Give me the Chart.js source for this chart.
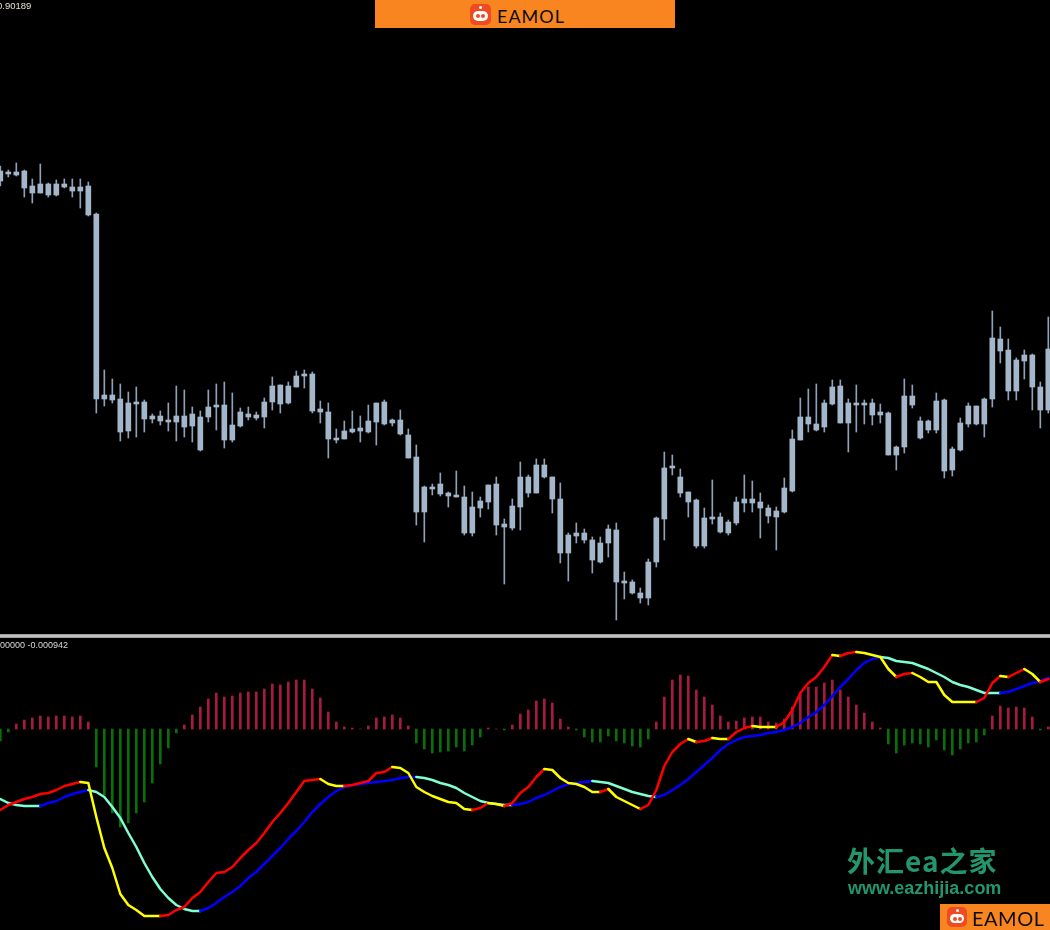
<!DOCTYPE html>
<html><head><meta charset="utf-8">
<script src="https://cdn.jsdelivr.net/npm/chart.js@4.4.1/dist/chart.umd.min.js"></script>
<style>
html,body{margin:0;padding:0;background:#000;width:1050px;height:930px;overflow:hidden;position:relative;}
canvas{position:absolute;left:0;display:block;}
#top{top:0;}
#bot{top:638px;}
#sep{position:absolute;left:0;top:634px;width:1050px;height:4px;background:linear-gradient(#8e8e8e,#d0d0d0 50%,#8e8e8e);}
.lbl{position:absolute;font-family:"Liberation Sans",Arial,sans-serif;white-space:nowrap;}
.logo{position:absolute;background:#f8851f;overflow:hidden;}
.ico{position:absolute;border-radius:5px;background:#ef4b22;}
.ico .face{position:absolute;background:#fff;border-radius:6px;}
.ico .face i{position:absolute;border-radius:50%;background:#ef4b22;}
.ico .ant{position:absolute;border-radius:50%;background:#fff;}
.logo span{position:absolute;font-family:Lato,Roboto,sans-serif;color:#0d0d0d;letter-spacing:1px;line-height:1;}
#wm1{position:absolute;left:847px;top:844px;font-family:"Noto Sans CJK SC",sans-serif;font-weight:700;font-size:28px;color:#23966e;line-height:1.2;white-space:nowrap;letter-spacing:1px;}
#wm2{position:absolute;left:848px;top:879px;font-family:"Liberation Sans",Arial,sans-serif;font-weight:700;font-size:18px;color:#23966e;white-space:nowrap;line-height:1.1;}
</style></head>
<body>
<canvas id="top" width="1050" height="633"></canvas>
<div id="sep"></div>
<canvas id="bot" width="1050" height="292"></canvas>
<div class="lbl" style="left:-3px;top:0px;font-size:9.5px;color:#e6e0d2;">0.90189</div>
<div class="lbl" style="left:0px;top:640px;font-size:9px;color:#d8d8d8;">00000 -0.000942</div>

<div class="logo" style="left:375px;top:0;width:300px;height:28px;">
  <div class="ico" style="left:95px;top:4px;width:21px;height:21px;">
    <div class="ant" style="left:9px;top:2px;width:3px;height:3px;"></div>
    <div class="face" style="left:3px;top:7px;width:15px;height:10px;"><i style="left:3px;top:3px;width:4px;height:4px;"></i><i style="left:8px;top:3px;width:4px;height:4px;"></i></div>
  </div>
  <span style="left:122px;top:7px;font-size:18px;">EAMOL</span>
</div>
<div id="wm1">外汇ea之家</div>
<div id="wm2">www.eazhijia.com</div>
<div class="logo" style="left:940px;top:904px;width:110px;height:26px;">
  <div class="ico" style="left:7px;top:3px;width:20px;height:20px;">
    <div class="ant" style="left:8.5px;top:2px;width:3px;height:3px;"></div>
    <div class="face" style="left:3px;top:7px;width:14px;height:9px;"><i style="left:3px;top:2.5px;width:4px;height:4px;"></i><i style="left:7.5px;top:2.5px;width:4px;height:4px;"></i></div>
  </div>
  <span style="left:32px;top:4px;font-size:20px;letter-spacing:0.5px;">EAMOL</span>
</div>

<script>
// ---- Price candles (one per bar) ----
const open = [0.90008,0.90015,0.90014,0.90018,0.90003,0.89996,0.90005,0.89994,0.90005,0.90002,
0.89998,0.90003,0.89975,0.89790,0.89794,0.89790,0.89758,0.89785,0.89787,0.89770,
0.89773,0.89768,0.89767,0.89773,0.89763,0.89772,0.89772,0.89782,0.89784,0.89749,
0.89763,0.89775,0.89771,0.89772,0.89787,0.89804,0.89786,0.89802,0.89813,0.89815,
0.89780,0.89777,0.89749,0.89750,0.89757,0.89761,0.89757,0.89767,0.89787,0.89766,
0.89769,0.89754,0.89732,0.89677,0.89702,0.89705,0.89696,0.89694,0.89692,0.89656,
0.89681,0.89687,0.89705,0.89662,0.89661,0.89682,0.89712,0.89696,0.89724,0.89712,
0.89690,0.89636,0.89653,0.89656,0.89649,0.89627,0.89646,0.89659,0.89606,0.89607,
0.89596,0.89591,0.89627,0.89670,0.89721,0.89712,0.89697,0.89689,0.89643,0.89672,
0.89672,0.89656,0.89666,0.89686,0.89690,0.89687,0.89681,0.89672,0.89677,0.89698,
0.89749,0.89772,0.89765,0.89762,0.89785,0.89803,0.89766,0.89784,0.89786,0.89786,
0.89777,0.89776,0.89734,0.89742,0.89793,0.89768,0.89759,0.89759,0.89789,0.89719,
0.89739,0.89765,0.89783,0.89765,0.89790,0.89850,0.89839,0.89798,0.89828,0.89834,
0.89802,0.89779];
const high = [0.90023,0.90019,0.90026,0.90019,0.90010,0.90025,0.90006,0.90009,0.90010,0.90010,
0.90010,0.90007,0.89976,0.89819,0.89810,0.89805,0.89797,0.89802,0.89789,0.89775,
0.89778,0.89786,0.89803,0.89799,0.89782,0.89778,0.89799,0.89805,0.89807,0.89796,
0.89781,0.89782,0.89777,0.89791,0.89812,0.89804,0.89807,0.89818,0.89819,0.89817,
0.89788,0.89786,0.89760,0.89768,0.89778,0.89773,0.89784,0.89786,0.89789,0.89770,
0.89779,0.89760,0.89744,0.89703,0.89705,0.89716,0.89697,0.89718,0.89703,0.89697,
0.89692,0.89704,0.89712,0.89670,0.89690,0.89727,0.89714,0.89730,0.89730,0.89712,
0.89706,0.89656,0.89666,0.89660,0.89652,0.89652,0.89664,0.89666,0.89617,0.89609,
0.89601,0.89630,0.89672,0.89737,0.89734,0.89720,0.89697,0.89690,0.89681,0.89709,
0.89676,0.89669,0.89692,0.89714,0.89708,0.89696,0.89684,0.89682,0.89711,0.89759,
0.89791,0.89800,0.89805,0.89789,0.89809,0.89809,0.89790,0.89804,0.89789,0.89790,
0.89785,0.89777,0.89743,0.89810,0.89804,0.89772,0.89769,0.89796,0.89790,0.89742,
0.89771,0.89786,0.89783,0.89791,0.89878,0.89862,0.89850,0.89831,0.89839,0.89835,
0.89807,0.89872];
const low = [0.90003,0.90012,0.90013,0.89992,0.89986,0.89996,0.89992,0.89993,0.90001,0.89992,
0.89981,0.89973,0.89776,0.89783,0.89786,0.89748,0.89751,0.89752,0.89757,0.89766,
0.89764,0.89758,0.89748,0.89752,0.89747,0.89738,0.89767,0.89759,0.89741,0.89747,
0.89762,0.89769,0.89769,0.89761,0.89779,0.89776,0.89785,0.89802,0.89801,0.89776,
0.89766,0.89731,0.89746,0.89750,0.89756,0.89747,0.89756,0.89744,0.89764,0.89763,
0.89754,0.89731,0.89664,0.89647,0.89694,0.89693,0.89682,0.89692,0.89654,0.89653,
0.89672,0.89680,0.89654,0.89605,0.89659,0.89659,0.89692,0.89696,0.89711,0.89676,
0.89626,0.89608,0.89646,0.89646,0.89616,0.89626,0.89632,0.89569,0.89590,0.89595,
0.89586,0.89584,0.89622,0.89649,0.89714,0.89692,0.89672,0.89641,0.89641,0.89665,
0.89656,0.89654,0.89664,0.89677,0.89677,0.89651,0.89666,0.89639,0.89676,0.89697,
0.89749,0.89757,0.89758,0.89757,0.89784,0.89766,0.89737,0.89757,0.89765,0.89764,
0.89766,0.89734,0.89719,0.89736,0.89781,0.89750,0.89756,0.89756,0.89711,0.89713,
0.89738,0.89762,0.89764,0.89752,0.89782,0.89826,0.89789,0.89789,0.89810,0.89779,
0.89761,0.89776];
const close = [0.90018,0.90016,0.90017,0.90001,0.89996,0.90005,0.89994,0.90005,0.90002,0.89998,
0.90002,0.89974,0.89790,0.89794,0.89789,0.89757,0.89786,0.89787,0.89770,0.89773,
0.89768,0.89767,0.89773,0.89762,0.89775,0.89739,0.89782,0.89784,0.89749,0.89764,
0.89777,0.89772,0.89774,0.89787,0.89803,0.89785,0.89803,0.89813,0.89815,0.89778,
0.89777,0.89750,0.89751,0.89758,0.89760,0.89758,0.89768,0.89786,0.89765,0.89769,
0.89755,0.89731,0.89677,0.89702,0.89700,0.89695,0.89693,0.89692,0.89656,0.89682,
0.89688,0.89704,0.89664,0.89665,0.89683,0.89712,0.89696,0.89724,0.89712,0.89690,
0.89636,0.89654,0.89656,0.89649,0.89629,0.89646,0.89660,0.89607,0.89608,0.89596,
0.89591,0.89627,0.89671,0.89721,0.89722,0.89696,0.89687,0.89643,0.89671,0.89670,
0.89657,0.89667,0.89687,0.89690,0.89686,0.89681,0.89673,0.89678,0.89701,0.89750,
0.89772,0.89765,0.89759,0.89786,0.89802,0.89766,0.89786,0.89786,0.89784,0.89774,
0.89774,0.89734,0.89742,0.89793,0.89784,0.89751,0.89768,0.89788,0.89718,0.89740,
0.89766,0.89783,0.89765,0.89790,0.89851,0.89838,0.89798,0.89829,0.89834,0.89802,
0.89779,0.89840];

// ---- Indicator sub-window ----
const histogram = [-0.00012,-0.00003,0.00005,0.00009,0.00011,0.00013,0.00012,0.00013,0.00013,0.00012,
0.00013,0.00007,-0.00038,-0.00066,-0.00084,-0.00098,-0.00094,-0.00084,-0.00073,-0.00054,
-0.00035,-0.00019,-0.00004,0.00004,0.00014,0.00022,0.00030,0.00036,0.00032,0.00033,
0.00036,0.00037,0.00037,0.00040,0.00045,0.00044,0.00047,0.00049,0.00049,0.00040,
0.00031,0.00017,0.00007,0.00002,0.00001,0,0.00003,0.00011,0.00012,0.00014,
0.00011,0.00003,-0.00014,-0.00020,-0.00024,-0.00023,-0.00022,-0.00018,-0.00022,-0.00016,
-0.00008,0.00001,0,-0.00001,0.00004,0.00015,0.00019,0.00028,0.00030,0.00026,
0.00010,0.00002,-0.00001,-0.00008,-0.00013,-0.00013,-0.00007,-0.00012,-0.00014,-0.00017,
-0.00018,-0.00010,0.00007,0.00032,0.00049,0.00054,0.00053,0.00039,0.00032,0.00024,
0.00013,0.00007,0.00008,0.00011,0.00012,0.00012,0.00007,0.00006,0.00010,0.00022,
0.00035,0.00042,0.00042,0.00046,0.00049,0.00039,0.00032,0.00024,0.00016,0.00007,
0.00001,-0.00015,-0.00024,-0.00016,-0.00014,-0.00015,-0.00018,-0.00011,-0.00021,-0.00026,
-0.00020,-0.00014,-0.00013,-0.00006,0.00013,0.00023,0.00021,0.00022,0.00021,0.00012,
-0.00001,0.00002];
const fastLine = [-0.00081,-0.00076,-0.00073,-0.00070,-0.00068,-0.00065,-0.00064,-0.00061,-0.00057,-0.00055,
-0.00053,-0.00054,-0.00088,-0.00119,-0.00139,-0.00165,-0.00176,-0.00181,-0.00187,-0.00187,
-0.00187,-0.00186,-0.00181,-0.00178,-0.00169,-0.00163,-0.00153,-0.00144,-0.00143,-0.00138,
-0.00129,-0.00121,-0.00114,-0.00104,-0.00093,-0.00084,-0.00074,-0.00063,-0.00052,-0.00051,
-0.00050,-0.00055,-0.00057,-0.00057,-0.00056,-0.00054,-0.00052,-0.00044,-0.00043,-0.00038,
-0.00039,-0.00044,-0.00058,-0.00063,-0.00067,-0.00070,-0.00073,-0.00074,-0.00080,-0.00081,
-0.00079,-0.00074,-0.00075,-0.00077,-0.00074,-0.00064,-0.00058,-0.00048,-0.00040,-0.00041,
-0.00049,-0.00054,-0.00055,-0.00058,-0.00063,-0.00063,-0.00060,-0.00068,-0.00072,-0.00076,
-0.00080,-0.00076,-0.00061,-0.00037,-0.00023,-0.00015,-0.00010,-0.00013,-0.00012,-0.00009,
-0.00010,-0.00010,-0.00003,0.00001,0.00003,0.00002,0.00002,0.00002,0.00007,0.00019,
0.00036,0.00046,0.00052,0.00062,0.00074,0.00073,0.00076,0.00077,0.00076,0.00074,
0.00072,0.00060,0.00052,0.00055,0.00056,0.00052,0.00047,0.00047,0.00034,0.00027,
0.00027,0.00027,0.00027,0.00031,0.00046,0.00053,0.00052,0.00056,0.00060,0.00055,
0.00047,0.00050];
const slowLine = [-0.00070,-0.00074,-0.00076,-0.00077,-0.00077,-0.00077,-0.00074,-0.00072,-0.00068,-0.00065,
-0.00063,-0.00061,-0.00063,-0.00068,-0.00078,-0.00089,-0.00104,-0.00118,-0.00134,-0.00148,
-0.00160,-0.00169,-0.00176,-0.00180,-0.00182,-0.00182,-0.00179,-0.00174,-0.00168,-0.00163,
-0.00157,-0.00149,-0.00143,-0.00135,-0.00127,-0.00119,-0.00110,-0.00102,-0.00093,-0.00083,
-0.00075,-0.00068,-0.00062,-0.00058,-0.00056,-0.00055,-0.00054,-0.00053,-0.00052,-0.00051,
-0.00049,-0.00048,-0.00048,-0.00049,-0.00051,-0.00054,-0.00056,-0.00059,-0.00064,-0.00068,
-0.00072,-0.00074,-0.00075,-0.00076,-0.00076,-0.00075,-0.00073,-0.00069,-0.00066,-0.00062,
-0.00058,-0.00055,-0.00054,-0.00053,-0.00052,-0.00053,-0.00054,-0.00057,-0.00060,-0.00063,
-0.00065,-0.00067,-0.00068,-0.00066,-0.00061,-0.00056,-0.00050,-0.00043,-0.00036,-0.00029,
-0.00021,-0.00015,-0.00011,-0.00008,-0.00007,-0.00006,-0.00004,-0.00003,-0.00001,0.00002,
0.00006,0.00012,0.00017,0.00024,0.00033,0.00042,0.00050,0.00059,0.00066,0.00070,
0.00072,0.00071,0.00068,0.00067,0.00066,0.00063,0.00060,0.00056,0.00052,0.00047,
0.00044,0.00042,0.00039,0.00036,0.00036,0.00036,0.00037,0.00040,0.00043,0.00046,
0.00048,0.00051];

// ---- axis ranges (price window / indicator window) ----
const priceMax = 0.90189, priceMin = 0.89556;
const indMax = 0.00091, indMin = -0.00201;
const xMin = -0.04, xMax = 131.21;

const idx = open.map((_, i) => i);

function trendColors(arr, up, down) {
  const out = []; let c = up;
  for (let i = 0; i < arr.length - 1; i++) {
    if (arr[i + 1] > arr[i]) c = up; else if (arr[i + 1] < arr[i]) c = down;
    out.push(c);
  }
  return out;
}
const fastCol = trendColors(fastLine, '#ff0000', '#ffff00');
const slowCol = trendColors(slowLine, '#0000ff', '#7fffd4');

const common = {
  responsive: false, animation: false, events: [],
  layout: { padding: 0 },
  plugins: { legend: { display: false }, tooltip: { enabled: false }, title: { display: false } }
};
const xScale = { type: 'linear', display: false, min: xMin, max: xMax, offset: false, grid: { display: false } };

new Chart(document.getElementById('top'), {
  type: 'bar',
  data: {
    datasets: [
      { label: 'wick', data: idx.map(i => ({ x: i, y: [low[i], high[i]] })), backgroundColor: '#8fa1b4',
        barThickness: 1, grouped: false, order: 2 },
      { label: 'body', data: idx.map(i => ({ x: i, y: [open[i], close[i]] })), backgroundColor: '#a3b6ca',
        barThickness: 5, minBarLength: 2, grouped: false, order: 1 }
    ]
  },
  options: Object.assign({}, common, {
    scales: { x: xScale, y: { display: false, min: priceMin, max: priceMax, grid: { display: false } } }
  })
});

new Chart(document.getElementById('bot'), {
  type: 'bar',
  data: {
    datasets: [
      { type: 'line', label: 'fast', data: idx.map(i => ({ x: i, y: fastLine[i] })), borderWidth: 2.5,
        borderColor: '#ff0000', pointRadius: 0, tension: 0, borderJoinStyle: 'round', borderCapStyle: 'round',
        segment: { borderColor: c => fastCol[c.p0DataIndex] }, order: 1 },
      { type: 'line', label: 'slow', data: idx.map(i => ({ x: i, y: slowLine[i] })), borderWidth: 2.5,
        borderColor: '#0000ff', pointRadius: 0, tension: 0, borderJoinStyle: 'round', borderCapStyle: 'round',
        segment: { borderColor: c => slowCol[c.p0DataIndex] }, order: 2 },
      { type: 'bar', label: 'hist', data: idx.map(i => ({ x: i, y: histogram[i] })),
        backgroundColor: histogram.map(v => v >= 0 ? '#a81a3e' : '#0a6e0a'), barThickness: 2, grouped: false, order: 3 }
    ]
  },
  options: Object.assign({}, common, {
    scales: { x: xScale, y: { display: false, min: indMin, max: indMax, grid: { display: false } } }
  })
});
</script>
</body></html>
